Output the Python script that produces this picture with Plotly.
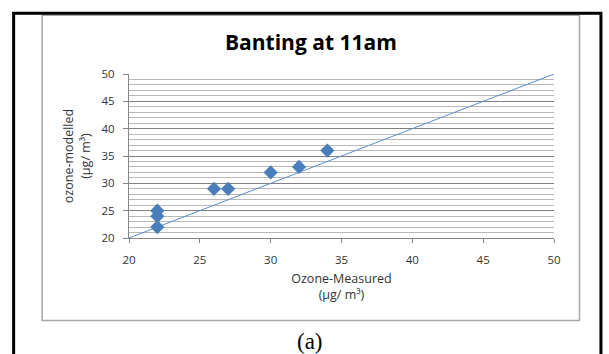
import plotly.graph_objects as go

# Data
measured = [22, 22, 22, 26, 27, 30, 32, 34]
modelled = [25, 24, 22, 29, 29, 32, 33, 36]
line_x = [20, 50]
line_y = [20, 50]
tick_vals = [20, 25, 30, 35, 40, 45, 50]
tick_text = ["20", "25", "30", "35", "40", "45", "50"]

W, H = 609, 354
L, R, T, B = 129, 554.5, 74.3, 238.5
PW, PH = R - L, B - T


def px(x):
    return (x - L) / PW


def py(y):
    return (B - y) / PH


fig = go.Figure()
fig.add_trace(go.Scatter(x=line_x, y=line_y, mode="lines",
                         line=dict(color="#5b8fd0", width=1), showlegend=False))
fig.add_trace(go.Scatter(x=measured, y=modelled, mode="markers",
                         marker=dict(symbol="diamond", size=11, color="#4a7ebb"),
                         showlegend=False))

axis_font = dict(family="Open Sans", size=11.5, color="#333333")
title_font = dict(family="Open Sans", size=12.5, color="#333333")

fig.update_layout(
    width=W, height=H,
    margin=dict(l=L, r=W - R, t=T, b=H - B, pad=0),
    paper_bgcolor="white", plot_bgcolor="white",
    xaxis=dict(range=[20, 50], tickvals=tick_vals, ticktext=tick_text,
               showgrid=False, zeroline=False, showline=True, linecolor="#868686",
               linewidth=1, ticks="outside", ticklen=4, tickcolor="#868686",
               tickfont=axis_font, ticklabelstandoff=7,
               title=dict(text="Ozone-Measured<br>(µg/ m³)", font=title_font, standoff=8)),
    yaxis=dict(range=[20, 50], tickvals=tick_vals, ticktext=tick_text,
               showgrid=True, gridcolor="#808080", gridwidth=1.2,
               zeroline=False, showline=True, linecolor="#868686", linewidth=1,
               ticks="outside", ticklen=5, tickcolor="#868686",
               tickfont=axis_font, ticklabelstandoff=6,
               minor=dict(dtick=1, showgrid=True, gridcolor="#b8b8b8", gridwidth=1),
               title=dict(text="ozone-modelled<br>(µg/ m³)", font=title_font, standoff=8)),
    shapes=[
        dict(type="rect", xref="paper", yref="paper",
             x0=px(42), x1=px(580), y0=py(321), y1=py(15.5),
             line=dict(color="#a8a8a8", width=1.5), layer="below"),
        dict(type="rect", xref="paper", yref="paper",
             x0=px(13.5), x1=px(601.5), y0=py(362), y1=py(13.5),
             line=dict(color="black", width=3), layer="above"),
    ],
    annotations=[
        dict(text="<b>Banting at 11am</b>", xref="paper", yref="paper",
             x=px(311), y=py(42), xanchor="center", yanchor="middle",
             showarrow=False, font=dict(family="Open Sans", size=21, color="black")),
        dict(text="(a)", xref="paper", yref="paper",
             x=px(310), y=py(342), xanchor="center", yanchor="middle",
             showarrow=False, font=dict(family="Liberation Serif", size=23, color="black")),
    ],
)

fig.write_html("out.html")
